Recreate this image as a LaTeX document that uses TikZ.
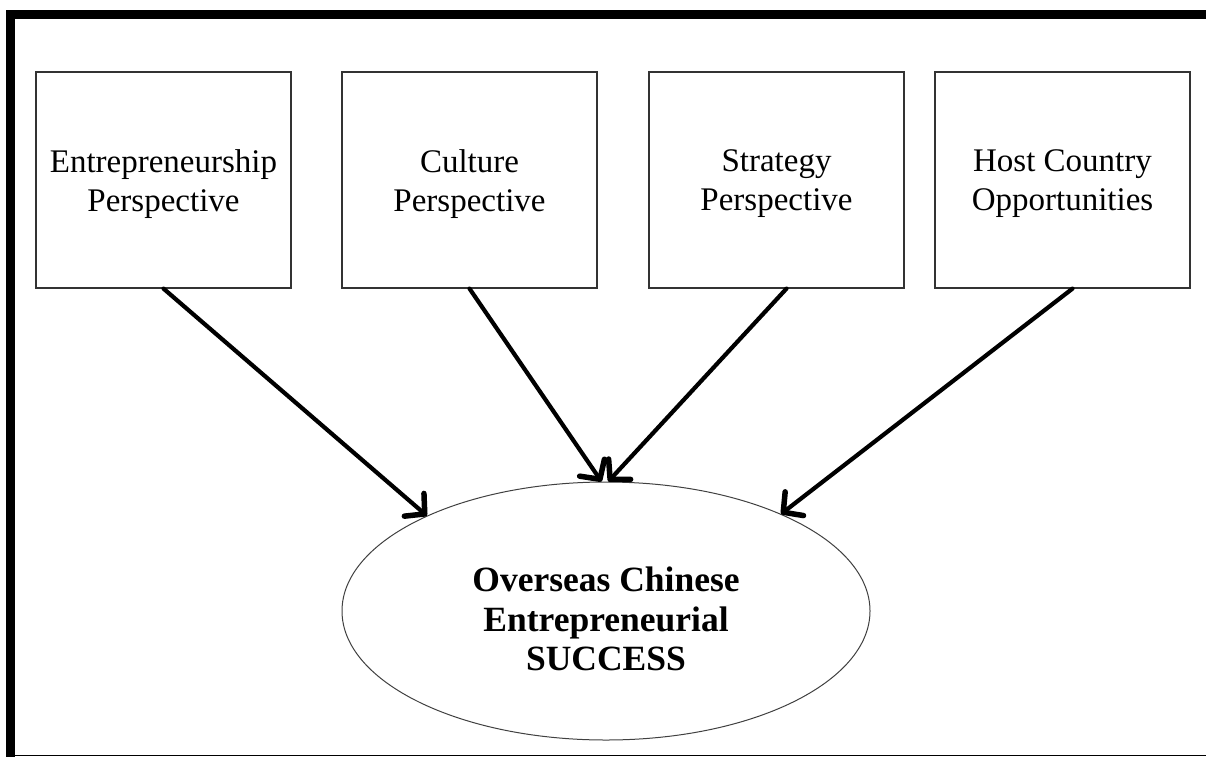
\documentclass[tikz,border=0pt]{standalone}
\usepackage{fontspec}
\setmainfont{Liberation Serif}
\usetikzlibrary{shapes.geometric,arrows.meta}
\begin{document}
\begin{tikzpicture}[x=1pt,y=-1pt,
  perspective/.style={draw=black!80,line width=1.2pt,minimum width=255pt,minimum height=216pt,
    inner sep=0pt},
  factor/.style={align=center,font=\fontsize{33}{39}\selectfont},
  outcome/.style={ellipse,draw=black!75,line width=1pt,minimum width=528pt,minimum height=258pt,
    inner sep=0pt},
  result/.style={align=center,font=\fontsize{35.5}{39.5}\selectfont\bfseries},
  link/.style={line width=4.2pt,line cap=round,
    -{Straight Barb[length=14pt,width=30pt,line width=5.5pt,round]}}]
\useasboundingbox (0,0) rectangle (1206,757);
% frame
\fill (6,10) rectangle (1206,19);
\fill (6,10) rectangle (15,757);
\draw[line width=1.3pt] (15,755.6) -- (1206,755.6);
% factors
\node[perspective] (e) at (163.5,180) {};
\node[perspective] (c) at (469.5,180) {};
\node[perspective] (s) at (776.5,180) {};
\node[perspective] (h) at (1062.5,180) {};
\node[factor] (et) at ([yshift=-4pt]e.center) {Entrepreneurship\\Perspective};
\node[factor] (ct) at ([yshift=-4pt]c.center) {Culture\\Perspective};
\node[factor] (st) at ([yshift=-4pt]s.center) {Strategy\\Perspective};
\node[factor] (ht) at ([yshift=-4pt]h.center) {Host Country\\Opportunities};
% outcome
\node[outcome] (o) at (606,611) {};
\node[result] (ot) at ([yshift=-8pt]o.center) {Overseas Chinese\\Entrepreneurial\\SUCCESS};
% links
\draw[link] (e.south) -- (o.152.6);
\draw[link] (c.south) -- (o.92.6);
\draw[link] ([xshift=10pt]s.south) -- (o.89.5);
\draw[link] ([xshift=10pt]h.south) -- (o.29.6);
\end{tikzpicture}
\end{document}
